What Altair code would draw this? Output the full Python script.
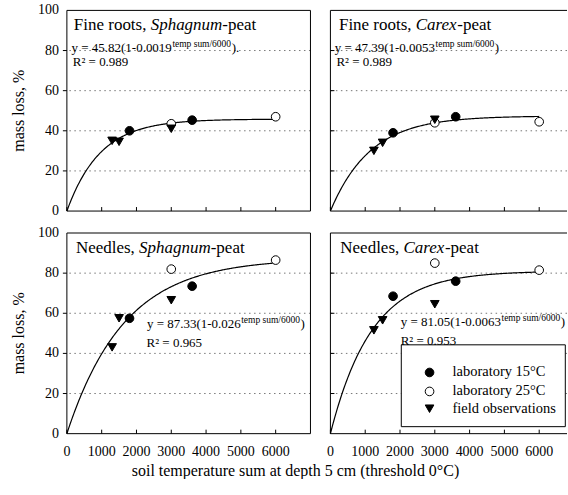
import altair as alt
import pandas as pd

FONT = "Liberation Serif"

# ---------------- data ----------------
title_lead = ["Fine roots, ", "Fine roots, ", "Needles, ", "Needles, "]
title_species = ["Sphagnum", "Carex", "Sphagnum", "Carex"]
title_tail = "-peat"

fit_a = ["45.82", "47.39", "87.33", "81.05"]
fit_b = ["0.0019", "0.0053", "0.026", "0.0063"]
fit_r2 = ["0.989", "0.989", "0.965", "0.953"]
eq_close = [").", ")", ")", ")"]

type_names = ["laboratory 15°C", "laboratory 25°C", "field observations"]

lab15_t = [[1800, 3600], [1800, 3600], [1800, 3600], [1800, 3600]]
lab15_y = [[40, 45.3], [39, 47], [57.5, 73.5], [68.5, 76]]
lab25_t = [[3000, 6000], [3000, 6000], [3000, 6000], [3000, 6000]]
lab25_y = [[43.5, 47], [44, 44.5], [82, 86.5], [85, 81.5]]
field_t = [[1300, 1500, 3000], [1250, 1500, 3000], [1300, 1500, 3000], [1250, 1500, 3000]]
field_y = [[35, 34.5, 41], [30, 34, 45.5], [43, 57.5, 66.5], [51.5, 56.5, 64.5]]

x_tick_values = [0, 1000, 2000, 3000, 4000, 5000, 6000]
y_tick_values = [0, 20, 40, 60, 80, 100]
grid_values = [20, 40, 60, 80]

y_title = "mass loss, %"
x_title = "soil temperature sum at depth 5 cm (threshold 0°C)"

# ---------------- helpers ----------------
REG = {' ': 250, '.': 250, ',': 250, '=': 564, '(': 333, ')': 333, '-': 333, '/': 278,
       'y': 500, 't': 278, 'e': 444, 'm': 778, 'p': 500, 's': 389, 'u': 500, 'F': 556,
       'i': 278, 'n': 500, 'r': 333, 'o': 500, 'N': 722, 'd': 500, 'l': 278, 'a': 444}
ITA = {'S': 500, 'p': 500, 'h': 500, 'a': 500, 'g': 500, 'n': 500, 'u': 500, 'm': 722,
       'C': 667, 'r': 389, 'e': 444, 'x': 444}


def tw(s, size, italic=False):
    tab = ITA if italic else REG
    return sum(tab.get(c, 500) for c in s) * size / 1000.0


W_L, W_R, H = 244, 237, 201
T_PER_PX = 7000 / W_L
xs = alt.Scale(domain=[0, 7000], nice=False, zero=False)
xs_r = alt.Scale(domain=[0, W_R * T_PER_PX], nice=False, zero=False)
ys = alt.Scale(domain=[0, 100], nice=False)

TITLE_SIZE = 17
EQ_SIZE = 13
SUP_SIZE = 9.5
LABEL_SIZE = 14

title_pos = [(200, 90.3), (245, 90.3), (260, 90.0), (285, 90.0)]
eq_pos = [(135, 79.5), (125, 79.5), (2300, 52.7), (2020, 53.7)]
r2_pos = [(170, 72.5), (172, 72.5), (2290, 43.3), (2020, 44.2)]


def build_panel(i, width, show_x, show_y, legend):
    xscale = xs if width == W_L else xs_r

    def X(field="t"):
        return alt.X(f"{field}:Q", scale=xscale, axis=None)

    def Y(field="y"):
        return alt.Y(f"{field}:Q", scale=ys, axis=None)

    shape_scale = alt.Scale(domain=type_names, range=["circle", "circle", "triangle-down"])
    fill_scale = alt.Scale(domain=type_names, range=["black", "white", "black"])

    def pts(df):
        return (alt.Chart(df)
                .mark_point(filled=True, stroke="black", strokeWidth=1, size=75, opacity=1)
                .encode(x=X(), y=Y(),
                        shape=alt.Shape("type:N", scale=shape_scale, legend=None),
                        fill=alt.Fill("type:N", scale=fill_scale, legend=None)))

    def txt(s, t, y, size, dx=0, dy=0, italic=False, align="left", baseline="alphabetic"):
        kw = dict(align=align, baseline=baseline, font=FONT, fontSize=size,
                  color="black", dx=dx, dy=dy)
        if italic:
            kw["fontStyle"] = "italic"
        return (alt.Chart(pd.DataFrame({"t": [t], "y": [y], "s": [s]}))
                .mark_text(**kw)
                .encode(x=X(), y=Y(), text="s:N"))

    layers = []
    # dotted horizontal grid
    layers.append(
        alt.Chart(pd.DataFrame({"y": grid_values}))
        .mark_rule(color="#777777", strokeDash=[1.5, 3.5], strokeWidth=1)
        .encode(y=Y())
    )
    # fitted curve from the printed equation
    layers.append(
        alt.Chart(alt.sequence(0, 6001, 25, as_="t"))
        .transform_calculate(y=f"{fit_a[i]}*(1-pow({fit_b[i]}, datum.t/6000))")
        .mark_line(color="black", strokeWidth=1.2)
        .encode(x=X(), y=Y())
    )
    # observations
    rows = []
    for t, y in zip(lab15_t[i], lab15_y[i]):
        rows.append({"t": t, "y": y, "type": type_names[0]})
    for t, y in zip(lab25_t[i], lab25_y[i]):
        rows.append({"t": t, "y": y, "type": type_names[1]})
    for t, y in zip(field_t[i], field_y[i]):
        rows.append({"t": t, "y": y, "type": type_names[2]})
    layers.append(pts(pd.DataFrame(rows)))

    # legend box (bottom-right panel)
    if legend:
        box = pd.DataFrame({"t1": [71 * T_PER_PX], "t2": [235.3 * T_PER_PX],
                            "y1": [100 - 112 / 2.01], "y2": [100 - 194 / 2.01]})
        layers.append(
            alt.Chart(box).mark_rect(fill="white", stroke="black", strokeWidth=1)
            .encode(x=X("t1"), x2="t2:Q", y=Y("y1"), y2="y2:Q")
        )
        ly = [100 - 139.7 / 2.01, 100 - 158.7 / 2.01, 100 - 176 / 2.01]
        sym_t = 99.3 * T_PER_PX
        lab_t = 122.3 * T_PER_PX
        layers.append(pts(pd.DataFrame({"t": [sym_t] * 3, "y": ly, "type": type_names})))
        layers.append(
            alt.Chart(pd.DataFrame({"t": [lab_t] * 3, "y": ly, "s": type_names}))
            .mark_text(align="left", baseline="middle", font=FONT, fontSize=14.5,
                       color="black")
            .encode(x=X(), y=Y(), text="s:N")
        )

    # panel frame (right panels are cut at the right edge of the figure)
    frame = alt.Chart(pd.DataFrame({"k": [0]})).mark_rule(color="black", strokeWidth=1)
    layers.append(frame.encode(x=alt.value(0), x2=alt.value(width), y=alt.value(0)))
    layers.append(frame.encode(x=alt.value(0), x2=alt.value(width), y=alt.value(H)))
    layers.append(frame.encode(x=alt.value(0), y=alt.value(0), y2=alt.value(H)))
    if width == W_L:
        layers.append(frame.encode(x=alt.value(width), y=alt.value(0), y2=alt.value(H)))

    # inward x ticks
    layers.append(
        alt.Chart(pd.DataFrame({"t": x_tick_values}))
        .mark_rule(color="black", strokeWidth=1)
        .encode(x=X(), y=alt.value(H), y2=alt.value(H - 4))
    )
    # y ticks: outward on left panels, inward on right panels
    yt = pd.DataFrame({"y": y_tick_values[1:-1]})
    if show_y:
        layers.append(alt.Chart(yt).mark_rule(color="black", strokeWidth=1)
                      .encode(y=Y(), x=alt.value(-4), x2=alt.value(0)))
    else:
        layers.append(alt.Chart(yt).mark_rule(color="black", strokeWidth=1)
                      .encode(y=Y(), x=alt.value(0), x2=alt.value(4)))

    # tick labels and axis titles as text
    if show_y:
        layers.append(
            alt.Chart(pd.DataFrame({"y": y_tick_values, "s": [str(v) for v in y_tick_values]}))
            .mark_text(align="right", baseline="middle", font=FONT, fontSize=LABEL_SIZE,
                       color="black")
            .encode(y=Y(), x=alt.value(-8), text="s:N")
        )
        layers.append(
            alt.Chart(pd.DataFrame({"s": [y_title]}))
            .mark_text(align="center", baseline="middle", font=FONT, fontSize=16,
                       color="black", angle=270)
            .encode(x=alt.value(-48), y=alt.value(H / 2), text="s:N")
        )
    if show_x:
        layers.append(
            alt.Chart(pd.DataFrame({"t": x_tick_values, "s": [str(v) for v in x_tick_values]}))
            .mark_text(align="center", baseline="middle", font=FONT, fontSize=LABEL_SIZE,
                       color="black")
            .encode(x=X(), y=alt.value(H + 18), text="s:N")
        )
        if show_y:
            layers.append(
                alt.Chart(pd.DataFrame({"s": [x_title]}))
                .mark_text(align="center", baseline="middle", font=FONT, fontSize=16,
                           color="black")
                .encode(x=alt.value(229), y=alt.value(H + 37), text="s:N")
            )

    # panel title with italic species name
    tx, ty = title_pos[i]
    w1 = tw(title_lead[i], TITLE_SIZE)
    w2 = tw(title_species[i], TITLE_SIZE, italic=True)
    layers.append(txt(title_lead[i], tx, ty, TITLE_SIZE))
    layers.append(txt(title_species[i], tx, ty, TITLE_SIZE, dx=w1, italic=True))
    layers.append(txt(title_tail, tx, ty, TITLE_SIZE, dx=w1 + w2))

    # equation with superscript
    ex, ey = eq_pos[i]
    main = f"y = {fit_a[i]}(1-{fit_b[i]}"
    sup = "temp sum/6000"
    wm = tw(main, EQ_SIZE)
    ws = tw(sup, SUP_SIZE)
    layers.append(txt(main, ex, ey, EQ_SIZE))
    layers.append(txt(sup, ex, ey, SUP_SIZE, dx=wm + 0.5, dy=-5))
    layers.append(txt(eq_close[i], ex, ey, EQ_SIZE, dx=wm + ws + 1))
    rx, ry = r2_pos[i]
    layers.append(txt(f"R² = {fit_r2[i]}", rx, ry, EQ_SIZE))

    return alt.layer(*layers).properties(width=width, height=H)


p1 = build_panel(0, W_L, False, True, False)
p2 = build_panel(1, W_R, False, False, False)
p3 = build_panel(2, W_L, True, True, False)
p4 = build_panel(3, W_R, True, False, True)

chart = (
    alt.concat(p1, p2, p3, p4, columns=2, spacing={"row": 22, "column": 20})
    .properties(
        bounds="flush",
        align="each",
        padding={"left": 11, "top": 3, "right": 0, "bottom": 0},
    )
    .configure(background="white", font=FONT)
    .configure_view(stroke="transparent", strokeWidth=0)
)

chart.save("out.html", embed_options={"renderer": "svg", "actions": False})
